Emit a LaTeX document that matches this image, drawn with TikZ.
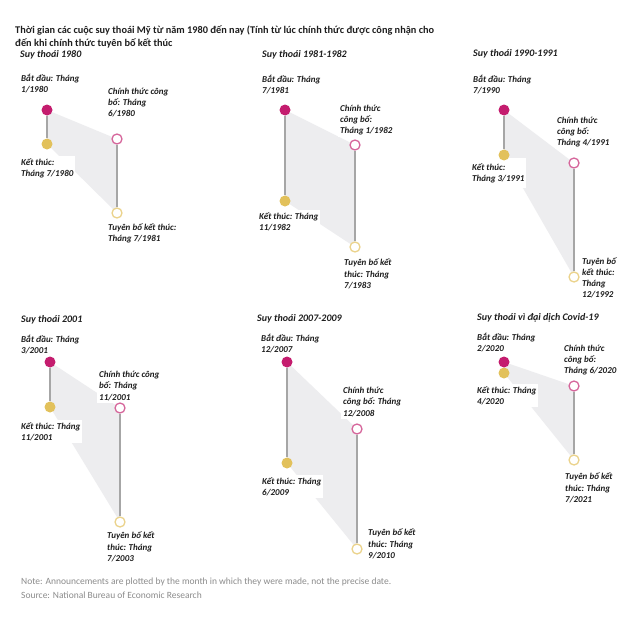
\documentclass[tikz,border=0pt]{standalone}
\usepackage{fontspec}
\setmainfont{Carlito}
\definecolor{cmag}{HTML}{C41C6E}
\definecolor{cyel}{HTML}{E2C15B}
\definecolor{cpink}{HTML}{D6679C}
\definecolor{cyelr}{HTML}{EBD38C}
\definecolor{cline}{HTML}{A6A6A6}
\definecolor{cband}{HTML}{EDEDEF}
\definecolor{labtext}{HTML}{1E1E1E}
\definecolor{notetext}{HTML}{8C8C8C}
\pgfdeclarelayer{bg}
\pgfdeclarelayer{lab}
\pgfsetlayers{bg,lab,main}
\tikzset{
  lab/.style={anchor=west, align=left, fill=white, inner sep=2pt,
    font=\fontsize{9}{11.2}\selectfont\bfseries\itshape, text=labtext},
  ptitle/.style={anchor=west, inner sep=0pt,
    font=\fontsize{10}{11}\selectfont\bfseries\itshape, text=labtext},
  mdot/.style={circle, fill=cmag, minimum size=11pt, inner sep=0pt},
  ydot/.style={circle, fill=cyel, minimum size=11pt, inner sep=0pt},
  pring/.style={circle, draw=cpink, fill=white, line width=1.3pt, minimum size=10pt, inner sep=0pt},
  yring/.style={circle, draw=cyelr, fill=white, line width=1.3pt, minimum size=10pt, inner sep=0pt},
  vline/.style={draw=cline, line width=1.5pt},
  band/.style={fill=cband},
}
\begin{document}
\begin{tikzpicture}[x=1pt,y=-1pt]
\begin{pgfonlayer}{bg}
\fill[white] (0,0) rectangle (630,621);
\end{pgfonlayer}
\useasboundingbox (0,0) rectangle (630,621);

% main title
\node[anchor=west, align=left, inner sep=0pt, font=\fontsize{10.3}{13}\selectfont\bfseries, text=labtext] (title) at (15,36.5)
  {Thời gian các cuộc suy thoái Mỹ từ năm 1980 đến nay (Tính từ lúc chính thức được công nhận cho\\đến khi chính thức tuyên bố kết thúc};

% ---------- Panel 1 ----------
\node[ptitle] (t1) at (20,55) {Suy thoái 1980};
\node[mdot] (m1) at (47,110) {};
\node[ydot] (y1) at (47,144) {};
\node[pring] (p1) at (117,139) {};
\node[yring] (h1) at (117,213) {};
\draw[vline] (m1) -- (y1);
\draw[vline] (p1) -- (h1);
\begin{pgfonlayer}{bg}
\fill[band] (m1.center) -- (p1.center) -- (h1.center) -- (y1.center) -- cycle;
\end{pgfonlayer}
\begin{pgfonlayer}{lab}
\node[lab] (s1) at (19,83.5) {Bắt đầu: Tháng\\1/1980};
\node[lab] (a1) at (106,102.5) {Chính thức công\\bố: Tháng\\6/1980};
\node[lab] (e1) at (19,168) {Kết thúc:\\Tháng 7/1980};
\node[lab] (d1) at (106,233.5) {Tuyên bố kết thúc:\\Tháng 7/1981};
\end{pgfonlayer}

% ---------- Panel 2 ----------
\node[ptitle] (t2) at (262,55) {Suy thoái 1981-1982};
\node[mdot] (m2) at (285,110) {};
\node[ydot] (y2) at (285,201) {};
\node[pring] (p2) at (355,145) {};
\node[yring] (h2) at (355,247) {};
\draw[vline] (m2) -- (y2);
\draw[vline] (p2) -- (h2);
\begin{pgfonlayer}{bg}
\fill[band] (m2.center) -- (p2.center) -- (h2.center) -- (y2.center) -- cycle;
\end{pgfonlayer}
\begin{pgfonlayer}{lab}
\node[lab] (s2) at (260,84.5) {Bắt đầu: Tháng\\7/1981};
\node[lab] (a2) at (338,120) {Chính thức\\công bố:\\Tháng 1/1982};
\node[lab] (e2) at (257,221.5) {Kết thúc: Tháng\\11/1982};
\node[lab] (d2) at (342,274) {Tuyên bố kết\\thúc: Tháng\\7/1983};
\end{pgfonlayer}

% ---------- Panel 3 ----------
\node[ptitle] (t3) at (473,54) {Suy thoái 1990-1991};
\node[mdot] (m3) at (504,110) {};
\node[ydot] (y3) at (504,155) {};
\node[pring] (p3) at (574,163) {};
\node[yring] (h3) at (574,277) {};
\draw[vline] (m3) -- (y3);
\draw[vline] (p3) -- (h3);
\begin{pgfonlayer}{bg}
\fill[band] (m3.center) -- (p3.center) -- (h3.center) -- (y3.center) -- cycle;
\end{pgfonlayer}
\begin{pgfonlayer}{lab}
\node[lab] (s3) at (471,84.5) {Bắt đầu: Tháng\\7/1990};
\node[lab] (a3) at (555,132) {Chính thức\\công bố:\\Tháng 4/1991};
\node[lab, inner ysep=5pt] (e3) at (470,173) {Kết thúc:\\Tháng 3/1991};
\node[lab] (d3) at (580,278) {Tuyên bố\\kết thúc:\\Tháng\\12/1992};
\end{pgfonlayer}

% ---------- Panel 4 ----------
\node[ptitle] (t4) at (21,320) {Suy thoái 2001};
\node[mdot] (m4) at (50,362) {};
\node[ydot] (y4) at (50,407) {};
\node[pring] (p4) at (120,408) {};
\node[yring] (h4) at (120,522) {};
\draw[vline] (m4) -- (y4);
\draw[vline] (p4) -- (h4);
\begin{pgfonlayer}{bg}
\fill[band] (m4.center) -- (p4.center) -- (h4.center) -- (y4.center) -- cycle;
\end{pgfonlayer}
\begin{pgfonlayer}{lab}
\node[lab] (s4) at (19,344.5) {Bắt đầu: Tháng\\3/2001};
\node[lab] (a4) at (97,386) {Chính thức công\\bố: Tháng\\11/2001};
\node[lab] (e4) at (19,431.5) {Kết thúc: Tháng\\11/2001};
\node[lab] (d4) at (105,547) {Tuyên bố kết\\thúc: Tháng\\7/2003};
\end{pgfonlayer}

% ---------- Panel 5 ----------
\node[ptitle] (t5) at (257,319) {Suy thoái 2007-2009};
\node[mdot] (m5) at (287,362) {};
\node[ydot] (y5) at (287,463) {};
\node[pring] (p5) at (357,429) {};
\node[yring] (h5) at (357,549) {};
\draw[vline] (m5) -- (y5);
\draw[vline] (p5) -- (h5);
\begin{pgfonlayer}{bg}
\fill[band] (m5.center) -- (p5.center) -- (h5.center) -- (y5.center) -- cycle;
\end{pgfonlayer}
\begin{pgfonlayer}{lab}
\node[lab] (s5) at (259,343.5) {Bắt đầu: Tháng\\12/2007};
\node[lab] (a5) at (341,402) {Chính thức\\công bố: Tháng\\12/2008};
\node[lab] (e5) at (260,486.5) {Kết thúc: Tháng\\6/2009};
\node[lab] (d5) at (366,544) {Tuyên bố kết\\thúc: Tháng\\9/2010};
\end{pgfonlayer}

% ---------- Panel 6 ----------
\node[ptitle] (t6) at (477,318) {Suy thoái vì đại dịch Covid-19};
\node[mdot] (m6) at (504,362) {};
\node[ydot] (y6) at (504,373) {};
\node[pring] (p6) at (574,386) {};
\node[yring] (h6) at (574,460) {};
\draw[vline] (p6) -- (h6);
\begin{pgfonlayer}{bg}
\fill[band] (m6.center) -- (p6.center) -- (h6.center) -- (y6.center) -- cycle;
\end{pgfonlayer}
\begin{pgfonlayer}{lab}
\node[lab] (s6) at (475,342.5) {Bắt đầu: Tháng\\2/2020};
\node[lab] (a6) at (562,360) {Chính thức\\công bố:\\Tháng 6/2020};
\node[lab] (e6) at (475,395.5) {Kết thúc: Tháng\\4/2020};
\node[lab] (d6) at (563,488) {Tuyên bố kết\\thúc: Tháng\\7/2021};
\end{pgfonlayer}

% footnote
\node[anchor=west, align=left, inner sep=0pt, font=\fontsize{9.5}{14}\selectfont, text=notetext] (note) at (21,588)
  {Note: Announcements are plotted by the month in which they were made, not the precise date.\\Source: National Bureau of Economic Research};
\end{tikzpicture}
\end{document}
